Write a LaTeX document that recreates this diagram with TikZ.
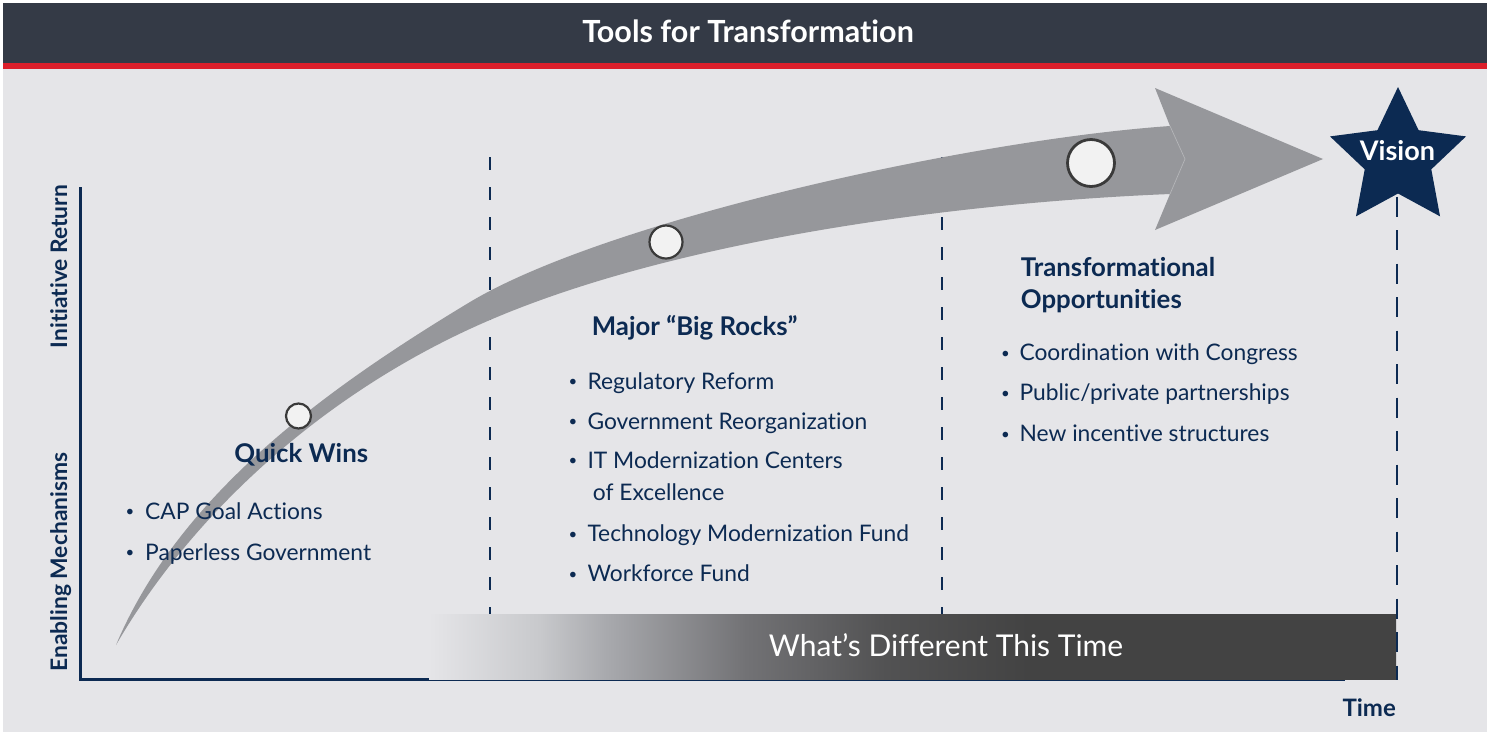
\documentclass[tikz,border=0pt]{standalone}
\usepackage{fontspec}
\setmainfont{Lato}[Ligatures=CommonOff]
\usetikzlibrary{calc}
\definecolor{hdr}{HTML}{343A46}
\definecolor{redl}{HTML}{DC1F2B}
\definecolor{bgc}{HTML}{E5E5E8}
\definecolor{navy}{HTML}{0C2A52}
\definecolor{arrg}{HTML}{96979B}
\definecolor{notchc}{HTML}{B4B5B8}
\definecolor{bard}{HTML}{434343}
\definecolor{gA}{HTML}{C8C9CC}
\definecolor{gB}{HTML}{A8A9AD}
\definecolor{gC}{HTML}{727275}
\definecolor{gD}{HTML}{525253}
\definecolor{dotfill}{HTML}{F2F2F2}
\definecolor{dotline}{HTML}{3A3A3A}
\pgfdeclarehorizontalshading{barshade}{100bp}{color(0bp)=(bgc); color(25bp)=(bgc); color(30.7bp)=(gA); color(34.2bp)=(gB); color(41.4bp)=(gC); color(48.6bp)=(gD); color(56bp)=(bard); color(100bp)=(bard)}
\newcommand{\fs}[1]{\fontsize{#1}{#1}\selectfont}
\tikzset{
  dline/.style={navy, line width=2pt, dash pattern=on 13pt off 17pt},
  dlineR/.style={navy, line width=2pt, dash pattern=on 20pt off 13.5pt},
  axisline/.style={navy, line width=2.5pt},
  dot/.style={circle, fill=dotfill, draw=dotline, line width=2.2pt, inner sep=0pt},
  head/.style={font=\bfseries\fs{25.8}, text=navy, anchor=base west, inner sep=0pt},
  item/.style={font=\fs{22.8}, text=navy, anchor=base west, inner sep=0pt},
  bul/.style={font=\fs{15}, text=navy, anchor=base, inner sep=0pt, yshift=2.5pt},
  axlab/.style={font=\bfseries\fs{22.8}, text=navy, rotate=90, anchor=base, inner sep=0pt},
}
\begin{document}
\begin{tikzpicture}[x=1pt,y=-1pt]
\useasboundingbox (0,0) rectangle (1490,732);
\fill[white] (0,0) rectangle (1490,732);
\fill[bgc] (3,3) rectangle (1487,732);
% header
\fill[hdr] (3,3) rectangle (1487,63);
\fill[redl] (3,63) rectangle (1487,69);
\node[font=\bfseries\fs{30.5}, text=white, anchor=base, inner sep=0pt] (title) at (748,42) {Tools for Transformation};

% dashed separators
\coordinate (d1t) at (490,157); \coordinate (d1b) at (490,614);
\coordinate (d2t) at (942,157); \coordinate (d2b) at (942,614);
\draw[dline] (d1t) -- (d1b);
\draw[dline] (d2t) -- (d2b);

% axes
\coordinate (ytop) at (80.5,187);
\coordinate (orig) at (80.5,679.5);
\coordinate (xend) at (1345,679.5);
\draw[axisline] (ytop) -- (orig) -- (xend);

% curved arrow
\coordinate (tip) at (116,645);
\coordinate (um) at (470,302);
\coordinate (ue) at (1170,126);
\coordinate (lm) at (490,320);
\coordinate (le) at (1170,194);
\fill[arrg] (tip) .. controls (180,493) and (329,387) .. (um)
  .. controls (607,220) and (970,140) .. (ue)
  -- (1155,88) -- (1323,159) -- (1155,230) -- (le)
  .. controls (950,203) and (674,241) .. (lm)
  .. controls (338,385) and (199,502) .. (tip) -- cycle;
\coordinate (n2) at (1185,159);
\draw[notchc, line width=0.7pt] (ue) -- (n2) -- (le);

% milestones
\node[dot, minimum size=25pt] (m1) at (298.5,416) {};
\node[dot, minimum size=33pt] (m2) at (666,242) {};
\node[dot, minimum size=47pt, line width=2.8pt] (m3) at (1091,163) {};

% bottom bar
\fill[shading=barshade] (429,614) rectangle (1396,679);
\node[font=\fs{30}, text=white, anchor=base, inner sep=0pt] (diff) at (946,656.7) {What’s Different This Time};

% right dashed line
\coordinate (d3t) at (1397,163); \coordinate (d3b) at (1397,680);
\draw[dlineR] (d3t) -- (d3b);

% star
\fill[navy, shift={(1398,158.5)}] (-90:71.5) -- (-126:35) -- (-162:71.5) -- (-198:35) -- (-234:71.5) -- (-270:35) -- (-306:71.5) -- (-342:35) -- (-378:71.5) -- (-414:35) -- cycle;
\node[font=\bfseries\fs{27}, text=white, anchor=base, inner sep=0pt] (vision) at (1397.5,160) {Vision};

% axis labels
\node[axlab] (ir) at (67,266.5) {Initiative Return};
\node[axlab] (em) at (67,562) {Enabling Mechanisms};
\node[font=\bfseries\fs{24}, text=navy, anchor=base east, inner sep=0pt] (time) at (1396,716.7) {Time};

% Quick wins
\node[head, anchor=base] (qw) at (301.3,462.7) {Quick Wins};
\node[bul] (b11) at (130,519.3) {•};
\node[item] (t11) at (145,519.3) {CAP Goal Actions};
\node[bul] (b12) at (130,560) {•};
\node[item] (t12) at (145,560) {Paperless Government};

% Big rocks
\node[head] (br) at (591.7,335) {Major “Big Rocks”};
\node[bul] (b21) at (573,389) {•};
\node[item] (t21) at (587.3,389) {Regulatory Reform};
\node[bul] (b22) at (573,429) {•};
\node[item] (t22) at (587.3,429) {Government Reorganization};
\node[bul] (b23) at (573,468) {•};
\node[item] (t23) at (587.3,468) {IT Modernization Centers};
\node[item] (t23b) at (592.7,500.7) {of Excellence};
\node[bul] (b24) at (573,541.7) {•};
\node[item] (t24) at (587.3,541.7) {Technology Modernization Fund};
\node[bul] (b25) at (573,581.7) {•};
\node[item] (t25) at (587.3,581.7) {Workforce Fund};

% Transformational
\node[head] (to1) at (1020.7,276.7) {Transformational};
\node[head] (to2) at (1020.7,308) {Opportunities};
\node[bul] (b31) at (1005.5,360.7) {•};
\node[item] (t31) at (1019.3,360.7) {Coordination with Congress};
\node[bul] (b32) at (1005.5,400.7) {•};
\node[item] (t32) at (1019.3,400.7) {Public/private partnerships};
\node[bul] (b33) at (1005.5,441.7) {•};
\node[item] (t33) at (1019.3,441.7) {New incentive structures};
\end{tikzpicture}
\end{document}
